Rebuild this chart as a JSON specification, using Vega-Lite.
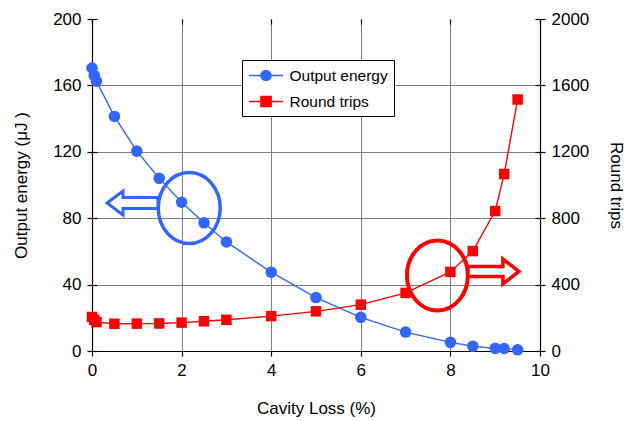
{
  "$schema": "https://vega.github.io/schema/vega-lite/v6.json",
  "width": 448,
  "height": 332,
  "autosize": {"type": "none"},
  "padding": {"left": 92, "top": 19, "right": 96, "bottom": 70},
  "background": "white",
  "config": {
    "font": "Liberation Sans",
    "view": {"stroke": null},
    "axis": {
      "domainColor": "black",
      "domainWidth": 1.2,
      "tickColor": "black",
      "tickWidth": 1.2,
      "tickSize": 5,
      "labelFontSize": 17,
      "labelColor": "black",
      "labelPadding": 6,
      "labelFlush": false,
      "labelOverlap": false,
      "titleFontSize": 17,
      "titleFontWeight": "normal",
      "titleColor": "black",
      "gridColor": "#7f7f7f",
      "gridWidth": 1
    }
  },
  "datasets": {
    "energy": [
      {"loss": 0, "energy": 170.5, "series": "Output energy"},
      {"loss": 0.05, "energy": 166, "series": "Output energy"},
      {"loss": 0.1, "energy": 162.5, "series": "Output energy"},
      {"loss": 0.5, "energy": 141.3, "series": "Output energy"},
      {"loss": 1, "energy": 120.4, "series": "Output energy"},
      {"loss": 1.5, "energy": 104, "series": "Output energy"},
      {"loss": 2, "energy": 89.6, "series": "Output energy"},
      {"loss": 2.5, "energy": 77.2, "series": "Output energy"},
      {"loss": 3, "energy": 65.7, "series": "Output energy"},
      {"loss": 4, "energy": 47.5, "series": "Output energy"},
      {"loss": 5, "energy": 32.2, "series": "Output energy"},
      {"loss": 6, "energy": 20.3, "series": "Output energy"},
      {"loss": 7, "energy": 11.4, "series": "Output energy"},
      {"loss": 8, "energy": 5.2, "series": "Output energy"},
      {"loss": 8.5, "energy": 2.9, "series": "Output energy"},
      {"loss": 9, "energy": 1.6, "series": "Output energy"},
      {"loss": 9.2, "energy": 1.5, "series": "Output energy"},
      {"loss": 9.5, "energy": 0.7, "series": "Output energy"}
    ],
    "trips": [
      {"loss": 0, "trips": 205, "series": "Round trips"},
      {"loss": 0.05, "trips": 188, "series": "Round trips"},
      {"loss": 0.1, "trips": 174, "series": "Round trips"},
      {"loss": 0.5, "trips": 164, "series": "Round trips"},
      {"loss": 1, "trips": 165, "series": "Round trips"},
      {"loss": 1.5, "trips": 166, "series": "Round trips"},
      {"loss": 2, "trips": 171, "series": "Round trips"},
      {"loss": 2.5, "trips": 179, "series": "Round trips"},
      {"loss": 3, "trips": 188, "series": "Round trips"},
      {"loss": 4, "trips": 210, "series": "Round trips"},
      {"loss": 5, "trips": 239, "series": "Round trips"},
      {"loss": 6, "trips": 279, "series": "Round trips"},
      {"loss": 7, "trips": 350, "series": "Round trips"},
      {"loss": 8, "trips": 476, "series": "Round trips"},
      {"loss": 8.5, "trips": 602, "series": "Round trips"},
      {"loss": 9, "trips": 843, "series": "Round trips"},
      {"loss": 9.2, "trips": 1066, "series": "Round trips"},
      {"loss": 9.5, "trips": 1515, "series": "Round trips"}
    ],
    "energyMark": [{"loss": 2.17, "energy": 86.1}],
    "energyArrow": [{"loss": 0.904, "energy": 89.2}],
    "tripsMark": [{"loss": 7.71, "trips": 455}],
    "tripsArrow": [{"loss": 8.96, "trips": 479}]
  },
  "layer": [
    {
      "encoding": {
        "x": {
          "field": "loss",
          "type": "quantitative",
          "scale": {"domain": [0, 10], "nice": false, "zero": false},
          "axis": {
            "values": [0, 2, 4, 6, 8, 10],
            "title": "Cavity Loss (%)",
            "grid": true,
            "titlePadding": 22
          }
        }
      },
      "layer": [
        {
          "data": {"name": "energy"},
          "mark": {"type": "line", "strokeWidth": 1.4},
          "encoding": {
            "y": {
              "field": "energy",
              "type": "quantitative",
              "scale": {"domain": [0, 200], "nice": false},
              "axis": {
                "orient": "left",
                "values": [0, 40, 80, 120, 160, 200],
                "title": "Output energy (μJ )",
                "grid": true,
                "gridOpacity": {"condition": {"test": "datum.value === 200", "value": 0}, "value": 1},
                "titlePadding": 22
              }
            },
            "color": {
              "field": "series",
              "type": "nominal",
              "scale": {"domain": ["Output energy", "Round trips"], "range": ["#3366ff", "#ff0000"]},
              "legend": {
                "title": null,
                "orient": "none",
                "legendX": 150,
                "legendY": 41,
                "padding": 6,
                "strokeColor": "black",
                "fillColor": "white",
                "symbolSize": 289,
                "symbolOffset": 8.5,
                "labelOffset": 14,
                "labelFontSize": 15.5,
                "labelColor": "black",
                "rowPadding": 8,
                "encode": {
                  "symbols": {
                    "update": {
                      "shape": {"signal": "datum.value === 'Output energy' ? 'M-2,0L2,0M-0.6,0A0.6,0.6,0,1,1,0.6,0A0.6,0.6,0,1,1,-0.6,0Z' : 'M-2,0L2,0M-0.6,-0.6L0.6,-0.6L0.6,0.6L-0.6,0.6Z'"},
                      "fill": {"scale": "color", "field": "value"},
                      "stroke": {"scale": "color", "field": "value"},
                      "strokeWidth": {"value": 1.4},
                      "opacity": {"value": 1},
                      "fillOpacity": {"value": 1}
                    }
                  }
                }
              }
            }
          }
        },
        {
          "data": {"name": "energy"},
          "mark": {"type": "point", "shape": "circle", "filled": true, "size": 133, "opacity": 1},
          "encoding": {
            "y": {"field": "energy", "type": "quantitative", "axis": null},
            "color": {"field": "series", "type": "nominal"}
          }
        },
        {
          "data": {"name": "energyMark"},
          "mark": {
            "type": "point",
            "shape": "M-0.873,0A0.873,1,0,1,0,0.873,0A0.873,1,0,1,0,-0.873,0Z",
            "size": 5041,
            "filled": false,
            "stroke": "#3366ff",
            "strokeWidth": 3.5,
            "opacity": 1
          },
          "encoding": {
            "y": {"field": "energy", "type": "quantitative", "axis": null}
          }
        },
        {
          "data": {"name": "energyArrow"},
          "mark": {
            "type": "point",
            "shape": "M-0.98,0L-0.365,-0.46L-0.365,-0.21L0.98,-0.21L0.98,0.21L-0.365,0.21L-0.365,0.46Z",
            "size": 2704,
            "filled": true,
            "fill": "white",
            "stroke": "#3366ff",
            "strokeWidth": 3,
            "opacity": 1
          },
          "encoding": {
            "y": {
              "field": "energy",
              "type": "quantitative",
              "axis": {
                "orient": "left",
                "values": [0, 40, 80, 120, 160, 200],
                "labels": false,
                "domain": false,
                "grid": false,
                "title": null,
                "tickSize": -5
              }
            }
          }
        }
      ],
      "resolve": {"axis": {"y": "independent"}}
    },
    {
      "encoding": {
        "x": {
          "field": "loss",
          "type": "quantitative",
          "axis": {
            "values": [0, 2, 4, 6, 8, 10],
            "labels": false,
            "domain": false,
            "grid": false,
            "title": null,
            "tickSize": -5
          }
        }
      },
      "layer": [
        {
          "data": {"name": "trips"},
          "mark": {"type": "line", "strokeWidth": 1.4},
          "encoding": {
            "y": {
              "field": "trips",
              "type": "quantitative",
              "scale": {"domain": [0, 2000], "nice": false},
              "axis": {
                "orient": "right",
                "values": [0, 400, 800, 1200, 1600, 2000],
                "format": "d",
                "title": "Round trips",
                "grid": false,
                "titlePadding": 18
              }
            },
            "color": {"field": "series", "type": "nominal"}
          }
        },
        {
          "data": {"name": "trips"},
          "mark": {"type": "point", "shape": "square", "filled": true, "size": 110, "opacity": 1},
          "encoding": {
            "y": {"field": "trips", "type": "quantitative", "axis": null},
            "color": {"field": "series", "type": "nominal"}
          }
        },
        {
          "data": {"name": "tripsMark"},
          "mark": {
            "type": "point",
            "shape": "M-0.871,0A0.871,1,0,1,0,0.871,0A0.871,1,0,1,0,-0.871,0Z",
            "size": 4900,
            "filled": false,
            "stroke": "#ff0000",
            "strokeWidth": 4,
            "opacity": 1
          },
          "encoding": {
            "y": {"field": "trips", "type": "quantitative", "axis": null}
          }
        },
        {
          "data": {"name": "tripsArrow"},
          "mark": {
            "type": "point",
            "shape": "M0.98,0L0.365,-0.48L0.365,-0.19L-0.98,-0.19L-0.98,0.19L0.365,0.19L0.365,0.48Z",
            "size": 2704,
            "filled": true,
            "fill": "white",
            "stroke": "#ff0000",
            "strokeWidth": 3.5,
            "opacity": 1
          },
          "encoding": {
            "y": {
              "field": "trips",
              "type": "quantitative",
              "axis": {
                "orient": "right",
                "values": [0, 400, 800, 1200, 1600, 2000],
                "labels": false,
                "domain": false,
                "grid": false,
                "title": null,
                "tickSize": -5
              }
            }
          }
        }
      ],
      "resolve": {"axis": {"y": "independent"}}
    }
  ],
  "resolve": {"scale": {"y": "independent"}, "axis": {"x": "independent"}}
}
